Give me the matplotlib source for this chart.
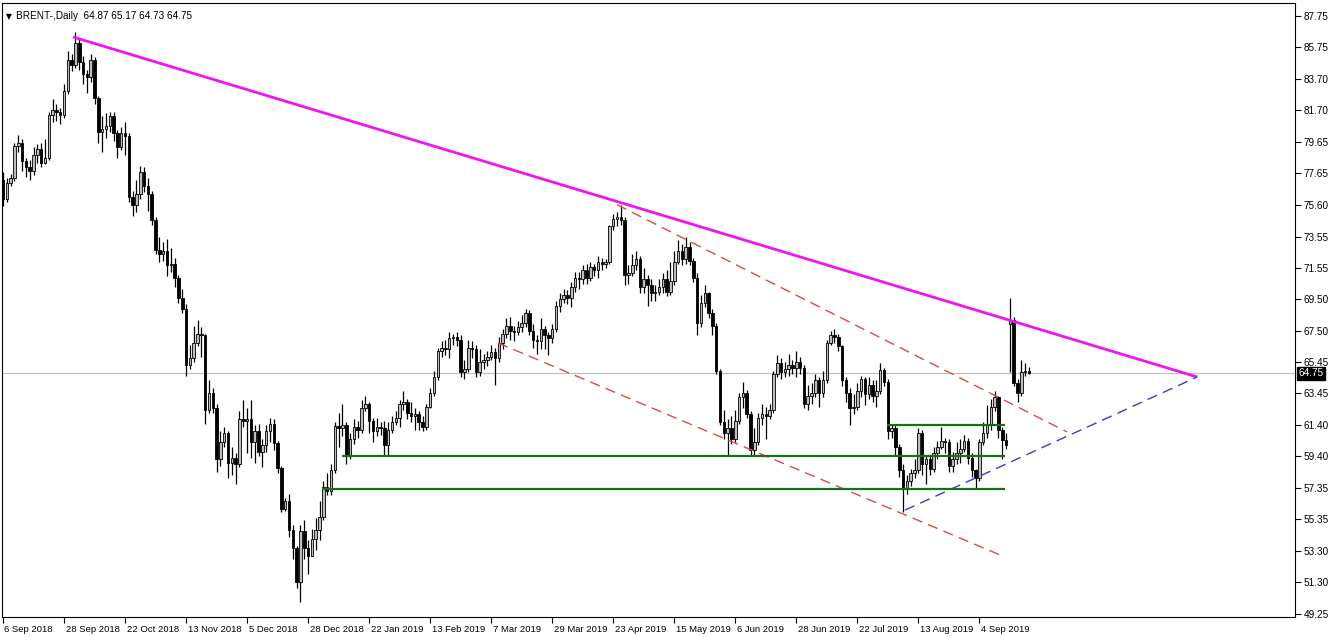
import matplotlib
matplotlib.use("Agg")
import matplotlib.pyplot as plt
import matplotlib.transforms as mtransforms

plt.rcParams["font.family"] = ["Liberation Sans", "DejaVu Sans"]

# ---------------- data ----------------
title_text = "BRENT-,Daily  64.87 65.17 64.73 64.75"
last_price = 64.75
first_open = 77.2
open_override_idx = [264, 269]
open_override_val = [67.9, 64.87]

closes = [
    # Sep - Nov 2018
    76.0, 77.0, 77.3, 79.4, 79.6, 78.4, 78.0, 77.8, 78.8, 79.2, 78.3, 78.6, 81.4, 81.7, 81.6, 81.4, 82.9, 84.9, 84.6, 86.0,
    84.8, 84.0, 83.8, 84.9, 82.5, 80.3, 80.5, 80.7, 81.3, 80.2, 79.3, 80.2, 80.0, 76.1, 75.6, 76.3, 77.7, 76.8, 76.3, 74.6,
    72.7, 72.4, 72.6, 71.7, 71.8, 70.9, 69.6, 68.9, 65.3, 65.7, 66.7, 67.3, 67.2, 62.4, 63.5, 62.5, 59.2, 60.3, 60.9, 59.0,
    59.3, 58.9, 61.8, 61.7, 61.8, 60.3, 61.0, 59.7, 60.1,
    # Dec 2018 - Mar 2019
    61.0, 61.5, 60.25, 58.65, 56.0, 56.5, 54.65, 53.5, 51.3, 54.6, 53.5, 53.0, 54.1, 54.65, 55.5, 57.4, 57.2, 58.5, 61.35, 61.2,
    61.4, 59.4, 60.5, 61.3, 61.1, 62.5, 62.8, 61.7, 61.0, 61.3, 61.2, 60.1, 61.1, 61.6, 61.9, 62.8, 62.9, 62.2, 62.0, 62.1,
    61.6, 61.3, 62.6, 63.5, 64.5, 66.2, 66.4, 66.3, 67.0, 67.1, 66.9, 64.8, 65.0, 66.4, 66.3, 64.8, 65.5, 65.6, 65.8, 66.1,
    65.7, 66.7, 67.3, 67.8, 67.5, 67.4, 67.7, 68.0, 68.6,
    # Mar - Jun 2019
    67.5, 66.9, 66.8, 67.6, 67.2, 67.0, 67.6, 69.1, 69.5, 69.8, 69.6, 70.3, 70.9, 70.8, 71.4, 70.9, 71.6, 71.4, 71.9, 71.8,
    71.9, 74.2, 74.7, 74.8, 74.6, 71.1, 71.2, 71.7, 72.1, 70.3, 70.8, 70.4, 69.9, 70.0, 70.3, 70.8, 70.0, 70.7, 71.9, 72.6,
    72.1, 72.9, 72.0, 70.9, 68.0, 69.3, 69.9, 68.6, 67.8, 64.9, 61.6, 60.9, 61.2, 60.5, 61.7, 63.2, 63.5, 62.1, 59.8, 60.3,
    61.9, 62.1, 62.0, 62.4, 64.7, 65.4, 64.8, 65.0,
    # Jun - Sep 2019
    65.3, 65.1, 65.5, 65.1, 62.8, 63.3, 63.5, 64.3, 63.5, 64.3, 66.7, 67.2, 67.1, 66.5, 64.3, 63.5, 62.5, 62.6, 63.6, 64.4,
    63.4, 64.0, 63.3, 63.6, 64.95, 64.2, 61.0, 61.2, 60.0, 58.5, 57.3, 57.8, 58.3, 58.5, 60.9, 58.9, 59.2, 58.6, 59.6, 60.0,
    60.4, 60.3, 58.8, 59.2, 59.6, 59.9, 60.4, 59.3, 58.5, 58.0, 60.3, 60.9, 61.5, 62.6, 63.2, 61.1, 60.45, 60.1, 68.2, 64.1,
    63.5, 64.8, 64.9, 64.75,
]

highs = [
    77.7, 77.3, 77.6, 79.6, 80.1, 79.8, 78.6, 78.5, 79.3, 79.5, 79.6, 79.8, 81.6, 82.4, 82.1, 81.8, 83.4, 85.5, 85.3, 86.7,
    86.3, 85.2, 84.3, 85.3, 85.1, 82.6, 81.3, 81.5, 81.6, 81.6, 80.4, 80.6, 80.9, 80.2, 76.5, 77.2, 78.1, 78.0, 77.3, 76.5,
    74.8, 73.5, 73.2, 73.4, 72.8, 72.2, 71.1, 70.2, 69.2, 66.6, 67.8, 68.2, 67.7, 67.3, 64.3, 63.8, 62.8, 61.0, 61.3, 61.0,
    60.0, 59.6, 62.3, 63.0, 62.5, 63.0, 61.4, 61.5, 60.5,
    61.4, 61.9, 61.8, 60.4, 58.8, 56.7, 57.0, 55.0, 53.6, 55.0, 55.3, 54.0, 54.7, 55.4, 56.5, 57.8, 58.3, 58.9, 61.6, 62.2,
    62.8, 61.6, 60.9, 61.8, 61.7, 63.0, 63.3, 62.9, 61.9, 61.9, 61.6, 61.7, 61.6, 62.0, 62.3, 63.0, 63.6, 63.1, 62.9, 62.5,
    62.3, 62.0, 62.8, 63.8, 64.9, 66.4, 66.8, 66.9, 67.4, 67.3, 67.4, 67.2, 65.6, 66.9, 66.8, 66.6, 66.3, 66.0, 66.2, 66.6,
    66.4, 67.1, 67.6, 68.3, 68.4, 67.8, 68.1, 68.5, 68.9,
    68.8, 67.9, 67.2, 68.3, 67.8, 67.4, 67.9, 69.4, 69.9, 70.2, 70.1, 70.6, 71.3, 71.3, 71.7, 71.8, 71.9, 71.8, 72.3, 72.2,
    72.1, 74.3, 75.0, 75.1, 75.6, 74.8, 71.7, 72.4, 72.6, 72.3, 71.5, 71.1, 70.8, 70.4, 70.8, 71.2, 71.4, 71.9, 72.6, 73.3,
    73.1, 73.5, 73.2, 72.2, 71.2, 69.8, 70.4, 70.0, 68.9, 68.0, 65.0, 62.4, 61.8, 62.0, 62.4, 63.5, 64.2, 63.7, 62.3, 61.2,
    62.2, 62.8, 62.6, 62.8, 64.9, 65.9, 65.7, 65.5,
    66.0, 65.6, 66.2, 65.8, 65.3, 64.0, 64.1, 64.7, 64.5, 64.9, 66.9, 67.5, 67.6, 67.3, 66.6, 64.5, 63.8, 63.4, 64.1, 64.6,
    64.5, 64.5, 64.3, 64.3, 65.4, 65.1, 64.4, 61.4, 61.4, 60.2, 58.9, 58.2, 58.6, 59.2, 61.2, 61.1, 59.5, 59.5, 60.0, 60.4,
    61.3, 60.6, 60.5, 59.7, 60.3, 60.5, 60.8, 60.6, 59.6, 58.6, 60.5, 61.6, 62.7, 63.1, 63.6, 63.3, 61.3, 60.9, 69.6, 68.4,
    64.4, 65.6, 65.4, 65.17,
]

lows = [
    75.5, 75.8, 76.8, 77.1, 79.0, 77.8, 77.4, 77.2, 77.5, 78.3, 78.0, 78.2, 78.5, 80.9, 81.0, 80.8, 81.2, 82.7, 84.2, 84.4,
    84.3, 83.4, 82.8, 83.5, 82.1, 79.6, 79.0, 79.9, 80.3, 79.7, 78.6, 79.1, 78.8, 75.8, 74.9, 75.1, 76.0, 76.4, 75.2, 74.3,
    72.4, 71.9, 72.0, 71.0, 71.3, 70.3, 69.3, 68.6, 64.6, 65.0, 65.5, 66.5, 65.8, 61.5, 62.2, 62.2, 58.4, 58.8, 60.0, 58.0,
    58.2, 57.6, 58.7, 61.3, 59.6, 59.3, 59.0, 59.4, 58.7,
    59.7, 60.3, 59.8, 58.3, 55.8, 55.9, 54.2, 52.8, 50.9, 50.0, 52.8, 51.8, 53.0, 53.4, 54.0, 55.3, 56.9, 56.9, 58.3, 60.0,
    60.7, 58.9, 59.2, 60.2, 60.6, 60.9, 62.3, 60.9, 60.3, 60.7, 60.8, 59.5, 59.5, 60.9, 61.4, 61.3, 62.4, 61.8, 61.6, 61.1,
    61.1, 61.0, 61.1, 62.5, 63.3, 64.3, 65.8, 65.9, 65.7, 66.6, 66.5, 64.5, 64.4, 64.8, 65.7, 64.5, 64.6, 65.0, 65.2, 65.6,
    64.0, 65.5, 66.3, 67.0, 66.9, 66.8, 67.2, 67.4, 67.7,
    67.2, 66.4, 66.0, 66.3, 66.3, 65.9, 66.7, 67.4, 68.7, 69.3, 69.2, 69.0, 70.0, 70.2, 70.5, 70.5, 70.7, 71.0, 70.9, 71.4,
    71.5, 71.8, 74.0, 74.2, 74.3, 70.4, 70.5, 71.0, 71.4, 69.9, 69.9, 69.1, 69.4, 69.4, 69.8, 69.9, 69.7, 69.8, 70.4, 71.8,
    71.7, 71.8, 71.7, 70.6, 67.2, 67.7, 69.0, 68.3, 67.2, 64.7, 61.4, 60.5, 59.5, 60.2, 60.3, 61.5, 62.5, 61.9, 59.4, 59.5,
    60.1, 61.4, 60.5, 61.8, 62.2, 64.5, 64.4, 64.5,
    64.6, 64.7, 64.5, 64.7, 62.5, 62.4, 62.8, 63.2, 62.6, 63.2, 64.1, 66.6, 66.7, 66.2, 63.9, 62.9, 61.4, 62.1, 62.4, 63.2,
    62.7, 63.1, 62.9, 62.6, 63.4, 63.9, 60.5, 60.6, 59.4, 58.1, 55.8, 57.0, 57.5, 58.0, 58.3, 58.2, 57.6, 58.2, 58.4, 59.2,
    59.9, 59.6, 58.4, 58.4, 58.9, 59.0, 59.7, 58.9, 58.1, 57.3, 57.8, 60.1, 60.6, 61.1, 62.3, 60.6, 59.2, 59.9, 64.8, 63.9,
    62.9, 63.3, 64.6, 64.73,
]

x_tick_pos = [0, 16, 32, 48, 64, 80, 96, 112, 128, 144, 160, 176, 192, 208, 224, 240, 256]
x_tick_labels = ["6 Sep 2018", "28 Sep 2018", "22 Oct 2018", "13 Nov 2018", "5 Dec 2018", "28 Dec 2018",
                 "22 Jan 2019", "13 Feb 2019", "7 Mar 2019", "29 Mar 2019", "23 Apr 2019", "15 May 2019",
                 "6 Jun 2019", "28 Jun 2019", "22 Jul 2019", "13 Aug 2019", "4 Sep 2019"]
y_ticks = [87.75, 85.75, 83.70, 81.70, 79.65, 77.65, 75.60, 73.55, 71.55, 69.50, 67.50, 65.45,
           63.45, 61.40, 59.40, 57.35, 55.35, 53.30, 51.30, 49.25]

# drawn objects (bar index, price)
main_trend_x = [18.35, 313.1]
main_trend_y = [86.40, 64.51]
red_upper_x = [161.0, 279.0]
red_upper_y = [75.60, 60.97]
red_lower_x = [129.8, 262.7]
red_lower_y = [66.70, 52.92]
blue_x = [236.5, 313.1]
blue_y = [55.94, 64.51]
green_levels = [61.42, 59.40, 57.30]
green_start = [231.8, 89.0, 83.6]
green_end = [262.7, 262.7, 262.7]

# ---------------- build ----------------
n = len(closes)
opens = [first_open] + closes[:-1]
for k, v in zip(open_override_idx, open_override_val):
    opens[k] = v
idx = list(range(n))

W, H = 1332, 637
fig = plt.figure(figsize=(W / 100, H / 100), dpi=100)
fig.patch.set_facecolor("white")
ax = fig.add_axes([2 / W, 20 / H, 1293 / W, 614 / H])
ax.set_facecolor("white")

# current price line
ax.axhline(last_price, color="#c0c0c0", lw=0.9, zorder=1)

# wicks
ax.vlines(idx, lows, highs, color="black", lw=0.9, zorder=3)
# bodies
bw = 0.66
for i in idx:
    o, c = opens[i], closes[i]
    lo, hi = min(o, c), max(o, c)
    h = max(hi - lo, 0.04)
    face = "#bdbdbd" if c >= o else "black"
    ax.bar(i, h, bottom=lo, width=bw, facecolor=face, edgecolor="black", linewidth=0.6, zorder=4)

# trend lines
ax.plot(main_trend_x, main_trend_y, color="#f014f0", lw=2.0, zorder=5, solid_capstyle="butt")
ax.plot(red_upper_x, red_upper_y, color="#e04848", lw=1.0, dashes=(7.5, 4.5), zorder=5)
ax.plot(red_lower_x, red_lower_y, color="#e04848", lw=1.0, dashes=(7.5, 4.5), zorder=5)
ax.plot(blue_x, blue_y, color="#3a3ad0", lw=1.0, dashes=(7.5, 4.5), zorder=5)
for lvl, s, e in zip(green_levels, green_start, green_end):
    ax.plot([s, e], [lvl, lvl], color="#16701a", lw=1.6, zorder=5, solid_capstyle="butt")

# axes limits
ax.set_xlim(-0.26, 338.75)
ax.set_ylim(49.057, 88.587)

# ticks
ax.yaxis.tick_right()
ax.set_yticks(y_ticks)
ax.set_yticklabels([f"{v:.2f}" for v in y_ticks])
ax.set_xticks(x_tick_pos)
ax.set_xticklabels(x_tick_labels, ha="left")
ax.tick_params(axis="both", direction="out", length=4, width=0.8, colors="black")
ax.tick_params(axis="y", pad=2, labelsize=7.2)
ax.tick_params(axis="x", pad=2, labelsize=6.8)
offset = mtransforms.ScaledTranslation(1.5 / 100, 0, fig.dpi_scale_trans)
for lab in ax.get_xticklabels():
    lab.set_transform(lab.get_transform() + offset)

for sp in ax.spines.values():
    sp.set_color("black")
    sp.set_linewidth(0.8)

# current price box
ax.annotate(f"{last_price:.2f}", xy=(1.0, last_price), xycoords=("axes fraction", "data"),
            xytext=(2.5, 0), textcoords="offset points", ha="left", va="center",
            fontsize=7.2, color="white",
            bbox=dict(boxstyle="square,pad=0.15", facecolor="black", edgecolor="black"))

# title
ax.text(0.003, 0.985, "\u25BC", transform=ax.transAxes, ha="left", va="top",
        fontsize=5.5, color="black", family="DejaVu Sans")
ax.text(0.011, 0.987, title_text, transform=ax.transAxes, ha="left", va="top",
        fontsize=7.2, color="black")

fig.savefig("out.png", dpi=100, facecolor="white")
